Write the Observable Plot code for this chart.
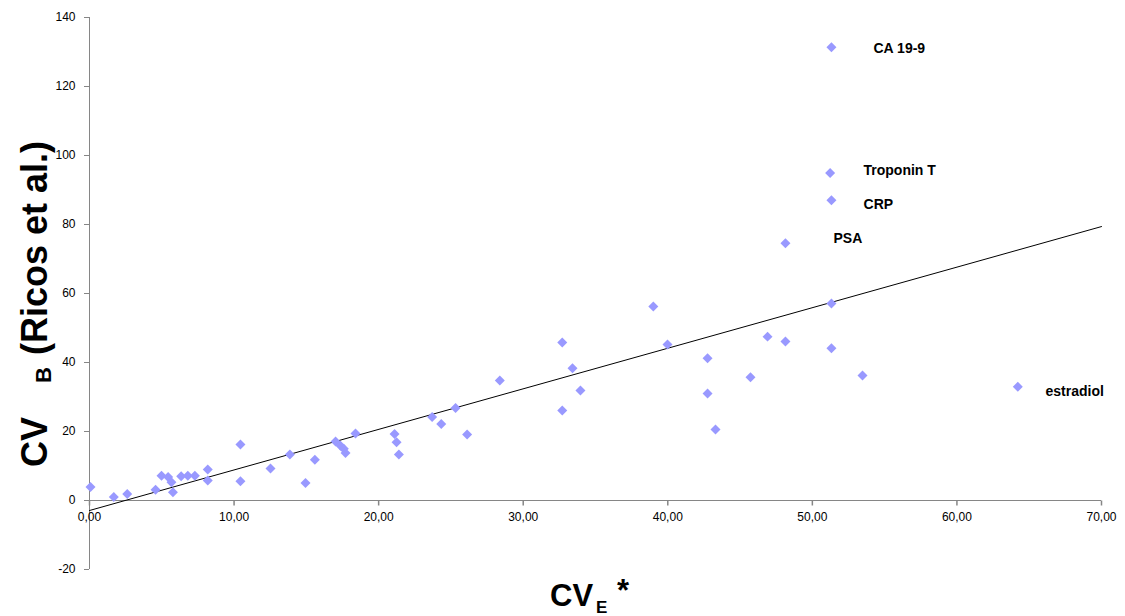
<!DOCTYPE html>
<html><head><meta charset="utf-8">
<script src="https://cdn.jsdelivr.net/npm/d3@7"></script>
<script src="https://cdn.jsdelivr.net/npm/@observablehq/plot@0.6"></script>
<style>body{margin:0;background:#fff;} svg{display:block}</style>
</head><body><div id="chart"></div>
<script>
// CV_E* (x) and CV_B (y) values
const cvE = [0.07, 1.68, 2.61, 4.57, 4.98, 5.44, 5.67, 5.77, 6.34, 6.80, 7.29, 8.18, 8.18,
  10.44, 10.44, 12.52, 13.86, 14.94, 15.59, 17.02, 17.36, 17.59, 17.71, 18.40,
  21.10, 21.24, 21.40, 23.70, 24.33, 25.32, 26.12, 28.38, 32.70, 32.70, 33.41, 33.96,
  39.00, 39.98, 42.75, 42.75, 43.30, 45.72, 46.90, 48.14, 51.32, 51.32, 53.47,
  64.21, 48.14, 51.32, 51.23, 51.32];
const cvB = [3.9, 1.0, 1.9, 3.1, 7.2, 6.8, 5.3, 2.4, 7.0, 7.2, 7.2, 9.0, 5.8,
  16.2, 5.6, 9.3, 13.3, 5.1, 11.8, 17.1, 15.9, 15.0, 13.8, 19.4,
  19.3, 16.9, 13.3, 24.2, 22.2, 26.8, 19.1, 34.8, 45.8, 26.1, 38.3, 31.9,
  56.2, 45.2, 41.2, 31.0, 20.6, 35.7, 47.5, 46.1, 57.1, 44.1, 36.2,
  33.0, 74.6, 87.0, 94.9, 131.4];

// annotation labels (anchor in data units)
const labelNames = ["CA 19-9", "Troponin T", "CRP", "PSA", "estradiol"];
const labelX = [54.23, 53.54, 53.54, 51.46, 66.13];
const labelY = [130.9, 95.7, 85.8, 75.9, 31.7];

// linear trendline endpoints
const trendX = [0, 70];
const trendY = [-2.9, 79.4];

const xTicks = [0, 10, 20, 30, 40, 50, 60, 70];
const yTicks = [-20, 0, 20, 40, 60, 80, 100, 120, 140];

const points = cvE.map((x, i) => ({x, y: cvB[i]}));
const labels = labelNames.map((name, i) => ({name, x: labelX[i], y: labelY[i]}));
const trend = trendX.map((x, i) => ({x, y: trendY[i]}));

const axisGray = "#868686";
const tickDown = {draw(ctx) { ctx.moveTo(0, 0); ctx.lineTo(0, 5); }};

const chart = Plot.plot({
  width: 1125, height: 616,
  marginLeft: 89, marginRight: 24, marginTop: 17, marginBottom: 47,
  style: {fontFamily: "'Liberation Sans', Arial, sans-serif", background: "#fff", overflow: "visible"},
  x: {domain: [0, 70], axis: null},
  y: {domain: [-20, 140], axis: null},
  marks: [
    Plot.ruleX([0], {stroke: axisGray}),
    Plot.ruleY([0], {stroke: axisGray}),
    Plot.dot(xTicks, {x: d => d, y: () => 0, symbol: tickDown, stroke: axisGray, fill: "none"}),
    Plot.text(xTicks, {x: d => d, y: () => 0, dy: 17, text: d => d.toFixed(2).replace(".", ","), fontSize: 12, fill: "#000"}),
    Plot.axisY(yTicks, {tickSize: 5, tickPadding: 9, tickFormat: d => String(d), fontSize: 12, color: "#000", stroke: axisGray, label: null}),
    Plot.line(trend, {x: "x", y: "y", stroke: "#000", strokeWidth: 1}),
    Plot.dot(points, {x: "x", y: "y", symbol: "diamond2", r: 4.5, fill: "#9999FF", stroke: "none"}),
    Plot.text(labels, {x: "x", y: "y", text: "name", textAnchor: "start", fontWeight: "bold", fontSize: 14, fill: "#000"})
  ]
});

const svg = d3.select(chart);
// Y axis title: CV_B (Ricos et al.)
const yt = svg.append("text")
  .attr("transform", "translate(47,467) rotate(-90)")
  .attr("text-anchor", "start")
  .attr("font-size", 36).attr("font-weight", "bold").attr("fill", "#000")
  .attr("font-family", "'Liberation Sans', Arial, sans-serif");
yt.append("tspan").attr("x", 0).attr("y", 0).text("CV");
yt.append("tspan").attr("x", 84).attr("y", 4).attr("font-size", 22).text("B");
yt.append("tspan").attr("x", 112).attr("y", 0).text("(Ricos et al.)");

// X axis title: CV_E*
const xt = svg.append("text")
  .attr("text-anchor", "start")
  .attr("font-size", 31).attr("font-weight", "bold").attr("fill", "#000")
  .attr("font-family", "'Liberation Sans', Arial, sans-serif");
xt.append("tspan").attr("x", 550).attr("y", 606).text("CV");
xt.append("tspan").attr("x", 596).attr("y", 613).attr("font-size", 17).text("E");
xt.append("tspan").attr("x", 617).attr("y", 601).text("*");

document.getElementById("chart").appendChild(chart);
</script>
</body></html>
